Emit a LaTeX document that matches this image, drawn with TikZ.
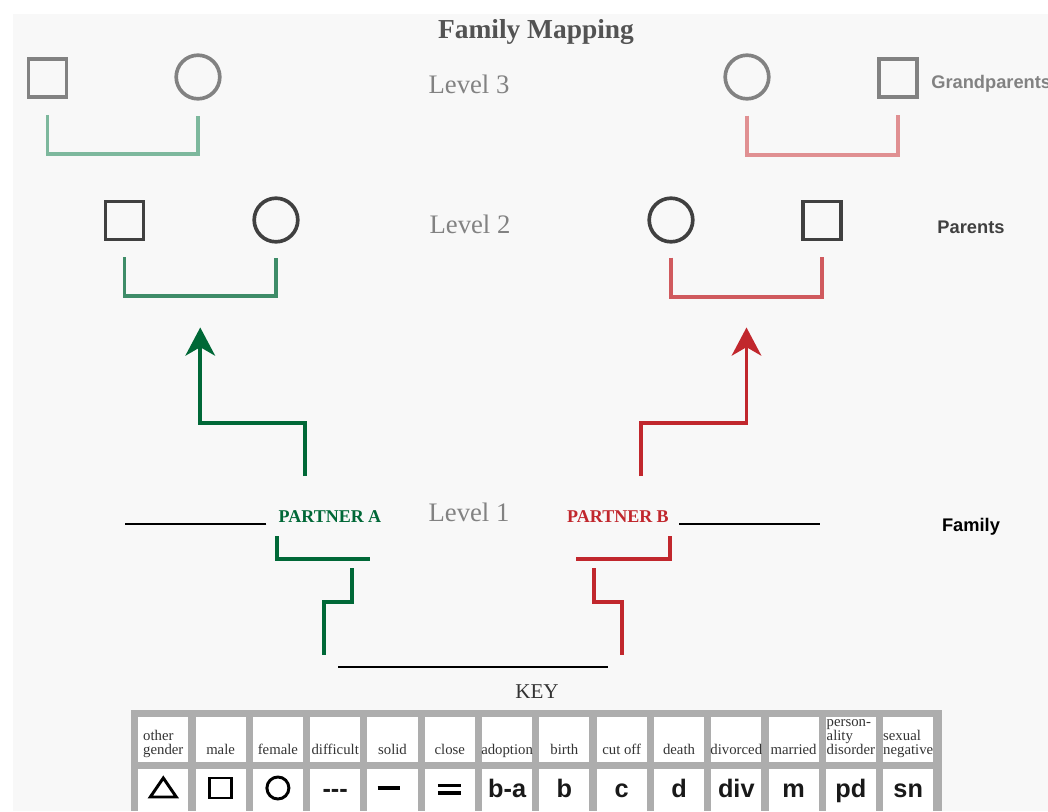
\documentclass[tikz,border=0pt]{standalone}
\usepackage{fontspec}
\setmainfont{Liberation Serif}
\newfontfamily\headsans{Liberation Sans}
\usetikzlibrary{calc,arrows.meta}
\definecolor{panel}{HTML}{F8F8F8}
\definecolor{lightgrey}{HTML}{828282}
\definecolor{darkgrey}{HTML}{404040}
\definecolor{textgrey}{HTML}{333333}
\definecolor{keygrey}{HTML}{ADADAD}
\definecolor{greenLight}{HTML}{7DB89D}
\definecolor{greenMid}{HTML}{3E8C68}
\definecolor{greenDark}{HTML}{006837}
\definecolor{redLight}{HTML}{E09092}
\definecolor{redMid}{HTML}{D05A5E}
\definecolor{redDark}{HTML}{C1272D}
\tikzstyle{maleShape}=[shape = rectangle, minimum size = 27pt, inner sep = 0pt, line width = 2.6pt, draw]
\tikzstyle{femaleShape}=[shape = circle, minimum size = 31pt, inner sep = 0pt, line width = 2.6pt, draw]
\tikzstyle{levelText}=[font = \fontsize{19}{22}\selectfont, text = lightgrey, anchor = base, inner sep = 0pt]
\tikzstyle{sideText}=[font = \headsans\bfseries\fontsize{13}{15}\selectfont, anchor = base, inner sep = 0pt]
\tikzstyle{partnerText}=[font = \bfseries\fontsize{12.8}{14}\selectfont, anchor = base, inner sep = 0pt]
\newcommand{\keytext}[2][c]{\makebox[35.6pt]{\renewcommand{\arraystretch}{0.62}\begin{tabular}[b]{@{}#1@{}}#2\end{tabular}}}

\begin{document}
\begin{tikzpicture}[x = 0.025cm, y = -0.025cm]
\tikzstyle{bracket}=[line width = 2.8pt]
\tikzstyle{familyLine}=[line width = 2.1pt, black]
\tikzstyle{keyHead}=[fill = white, minimum width = 35.6pt, inner sep = 0pt, text height = 26.3pt, text depth = 5.7pt, anchor = base, font = \fontsize{10.5}{12.5}\selectfont, text = textgrey]
\tikzstyle{keySymbol}=[fill = white, minimum width = 35.6pt, inner sep = 0pt, text height = 19.9pt, text depth = 16.4pt, anchor = base, font = \headsans\bfseries\fontsize{18}{20}\selectfont, text = black!90]
\tikzstyle{keyShape}=[line width = 2.1pt, black]
\useasboundingbox (0,0) rectangle (1048,811);
\fill[panel] (13,14) rectangle (1048,811);
\node[font = \bfseries\fontsize{19.5}{23}\selectfont, text = darkgrey!90, anchor = base] (title) at (536,38) {Family Mapping};

\node[maleShape, lightgrey] (g1) at (47.5,78) {};
\node[femaleShape, lightgrey] (g2) at (198,77) {};
\node[femaleShape, lightgrey] (g3) at (747,77) {};
\node[maleShape, lightgrey] (g4) at (898,78) {};
\node[levelText] (l3) at (469,93) {Level 3};
\node[sideText, text = lightgrey, anchor = base west] (gp) at (931,88) {Grandparents};
\draw[bracket, greenLight] ($(g1.south)+(0,16)$) -- ++(0,39) -| ($(g2.south)+(0,15)$);
\draw[bracket, redLight] ($(g3.south)+(0,15)$) -- ++(0,39) -| ($(g4.south)+(0,16)$);

\node[maleShape, darkgrey] (p1) at (124.5,220.5) {};
\node[femaleShape, darkgrey] (p2) at (276,220) {};
\node[femaleShape, darkgrey] (p3) at (671,220) {};
\node[maleShape, darkgrey] (p4) at (822,220.5) {};
\node[levelText] (l2) at (470,233) {Level 2};
\node[sideText, text = darkgrey] (par) at (971,233) {Parents};
\draw[bracket, greenMid] ($(p1.south)+(0,16)$) -- ++(0,39) -| ($(p2.south)+(0,14)$);
\draw[bracket, redMid] ($(p3.south)+(0,14)$) -- ++(0,39) -| ($(p4.south)+(0,16)$);

\coordinate (sA) at (305,476);
\coordinate (tA) at ($(p1.south)!0.5!(p2.south)+(0,85)$);
\coordinate (sB) at (641,476);
\coordinate (tB) at ($(p3.south)!0.5!(p4.south)+(0,85)$);
\draw[bracket, greenDark, -{Stealth[length = 20pt, width = 21pt, inset = 6pt]}] (sA) -- ++(0,-53) -| (tA);
\draw[bracket, redDark, -{Stealth[length = 20pt, width = 21pt, inset = 6pt]}] (sB) -- ++(0,-53) -| (tB);

\node[partnerText, text = greenDark] (pa) at (330,522) {PARTNER A};
\node[partnerText, text = redDark] (pb) at (618,522) {PARTNER B};
\node[levelText] (l1) at (469,521) {Level 1};
\node[sideText, text = black] (fam) at (971,531) {Family};
\draw[familyLine] ($(pa.base west)+(-12,2)$) -- ++(-141,0);
\draw[familyLine] ($(pb.base east)+(10,2)$) -- ++(141,0);
\draw[bracket, greenDark] ($(pa.base west)+(-1,14)$) |- ++(93,23);
\draw[bracket, redDark] ($(pb.base east)+(1,14)$) |- ++(-94,23);
\coordinate (a1) at (352,568);
\coordinate (a2) at (324,655);
\coordinate (b1) at (594,568);
\coordinate (b2) at (622,655);
\draw[bracket, greenDark] (a1) -- ++(0,34) -| (a2);
\draw[bracket, redDark] (b1) -- ++(0,34) -| (b2);
\coordinate (u1) at (338,667);
\coordinate (u2) at (608,667);
\draw[familyLine] (u1) -- (u2);

\node[font = \fontsize{15}{18}\selectfont, text = textgrey, anchor = base] (key) at (537,698) {KEY};
\fill[keygrey] (131,710) rectangle (942,811);
\node[keyHead] (k1) at (163.3,754) {\keytext[l]{other\\gender}};
\node[keyHead] (k2) at (220.6,754) {\keytext{male}};
\node[keyHead] (k3) at (277.9,754) {\keytext{female}};
\node[keyHead] (k4) at (335.2,754) {\keytext{difficult}};
\node[keyHead] (k5) at (392.5,754) {\keytext{solid}};
\node[keyHead] (k6) at (449.8,754) {\keytext{close}};
\node[keyHead] (k7) at (507.1,754) {\keytext{adoption}};
\node[keyHead] (k8) at (564.4,754) {\keytext{birth}};
\node[keyHead] (k9) at (621.7,754) {\keytext{cut off}};
\node[keyHead] (k10) at (679.0,754) {\keytext{death}};
\node[keyHead] (k11) at (736.3,754) {\keytext{divorced}};
\node[keyHead] (k12) at (793.6,754) {\keytext{married}};
\node[keyHead] (k13) at (850.9,754) {\keytext[l]{person-\\ality\\disorder}};
\node[keyHead] (k14) at (908.2,754) {\keytext[l]{sexual\\negative}};

\node[keySymbol] (s1) at (163.3,797) {};
\node[keySymbol] (s2) at (220.6,797) {};
\node[keySymbol] (s3) at (277.9,797) {};
\node[keySymbol] (s4) at (335.2,797) {-{}-{}-};
\node[keySymbol] (s5) at (392.5,797) {};
\node[keySymbol] (s6) at (449.8,797) {};
\node[keySymbol] (s7) at (507.1,797) {b-a};
\node[keySymbol] (s8) at (564.4,797) {b};
\node[keySymbol] (s9) at (621.7,797) {c};
\node[keySymbol] (s10) at (679.0,797) {d};
\node[keySymbol] (s11) at (736.3,797) {div};
\node[keySymbol] (s12) at (793.6,797) {m};
\node[keySymbol] (s13) at (850.9,797) {pd};
\node[keySymbol] (s14) at (908.2,797) {sn};
\draw[keyShape, line join = miter] ($(s1.base)+(-13,0)$) -- ++(26,0) -- ($(s1.base)+(0,-19)$) -- cycle;
\draw[keyShape] ($(s2.base)+(-11,-19)$) rectangle ++(22,20);
\draw[keyShape] ($(s3.base)+(0,-9)$) circle[radius = 11];
\draw[keyShape, line width = 2.4pt] ($(s5.base)+(-15,-9)$) -- ++(22,0);
\draw[keyShape, line width = 2.4pt] ($(s6.base)+(-12,-11.5)$) -- ++(23,0);
\draw[keyShape, line width = 2.4pt] ($(s6.base)+(-12,-4)$) -- ++(23,0);
\end{tikzpicture}
\end{document}
